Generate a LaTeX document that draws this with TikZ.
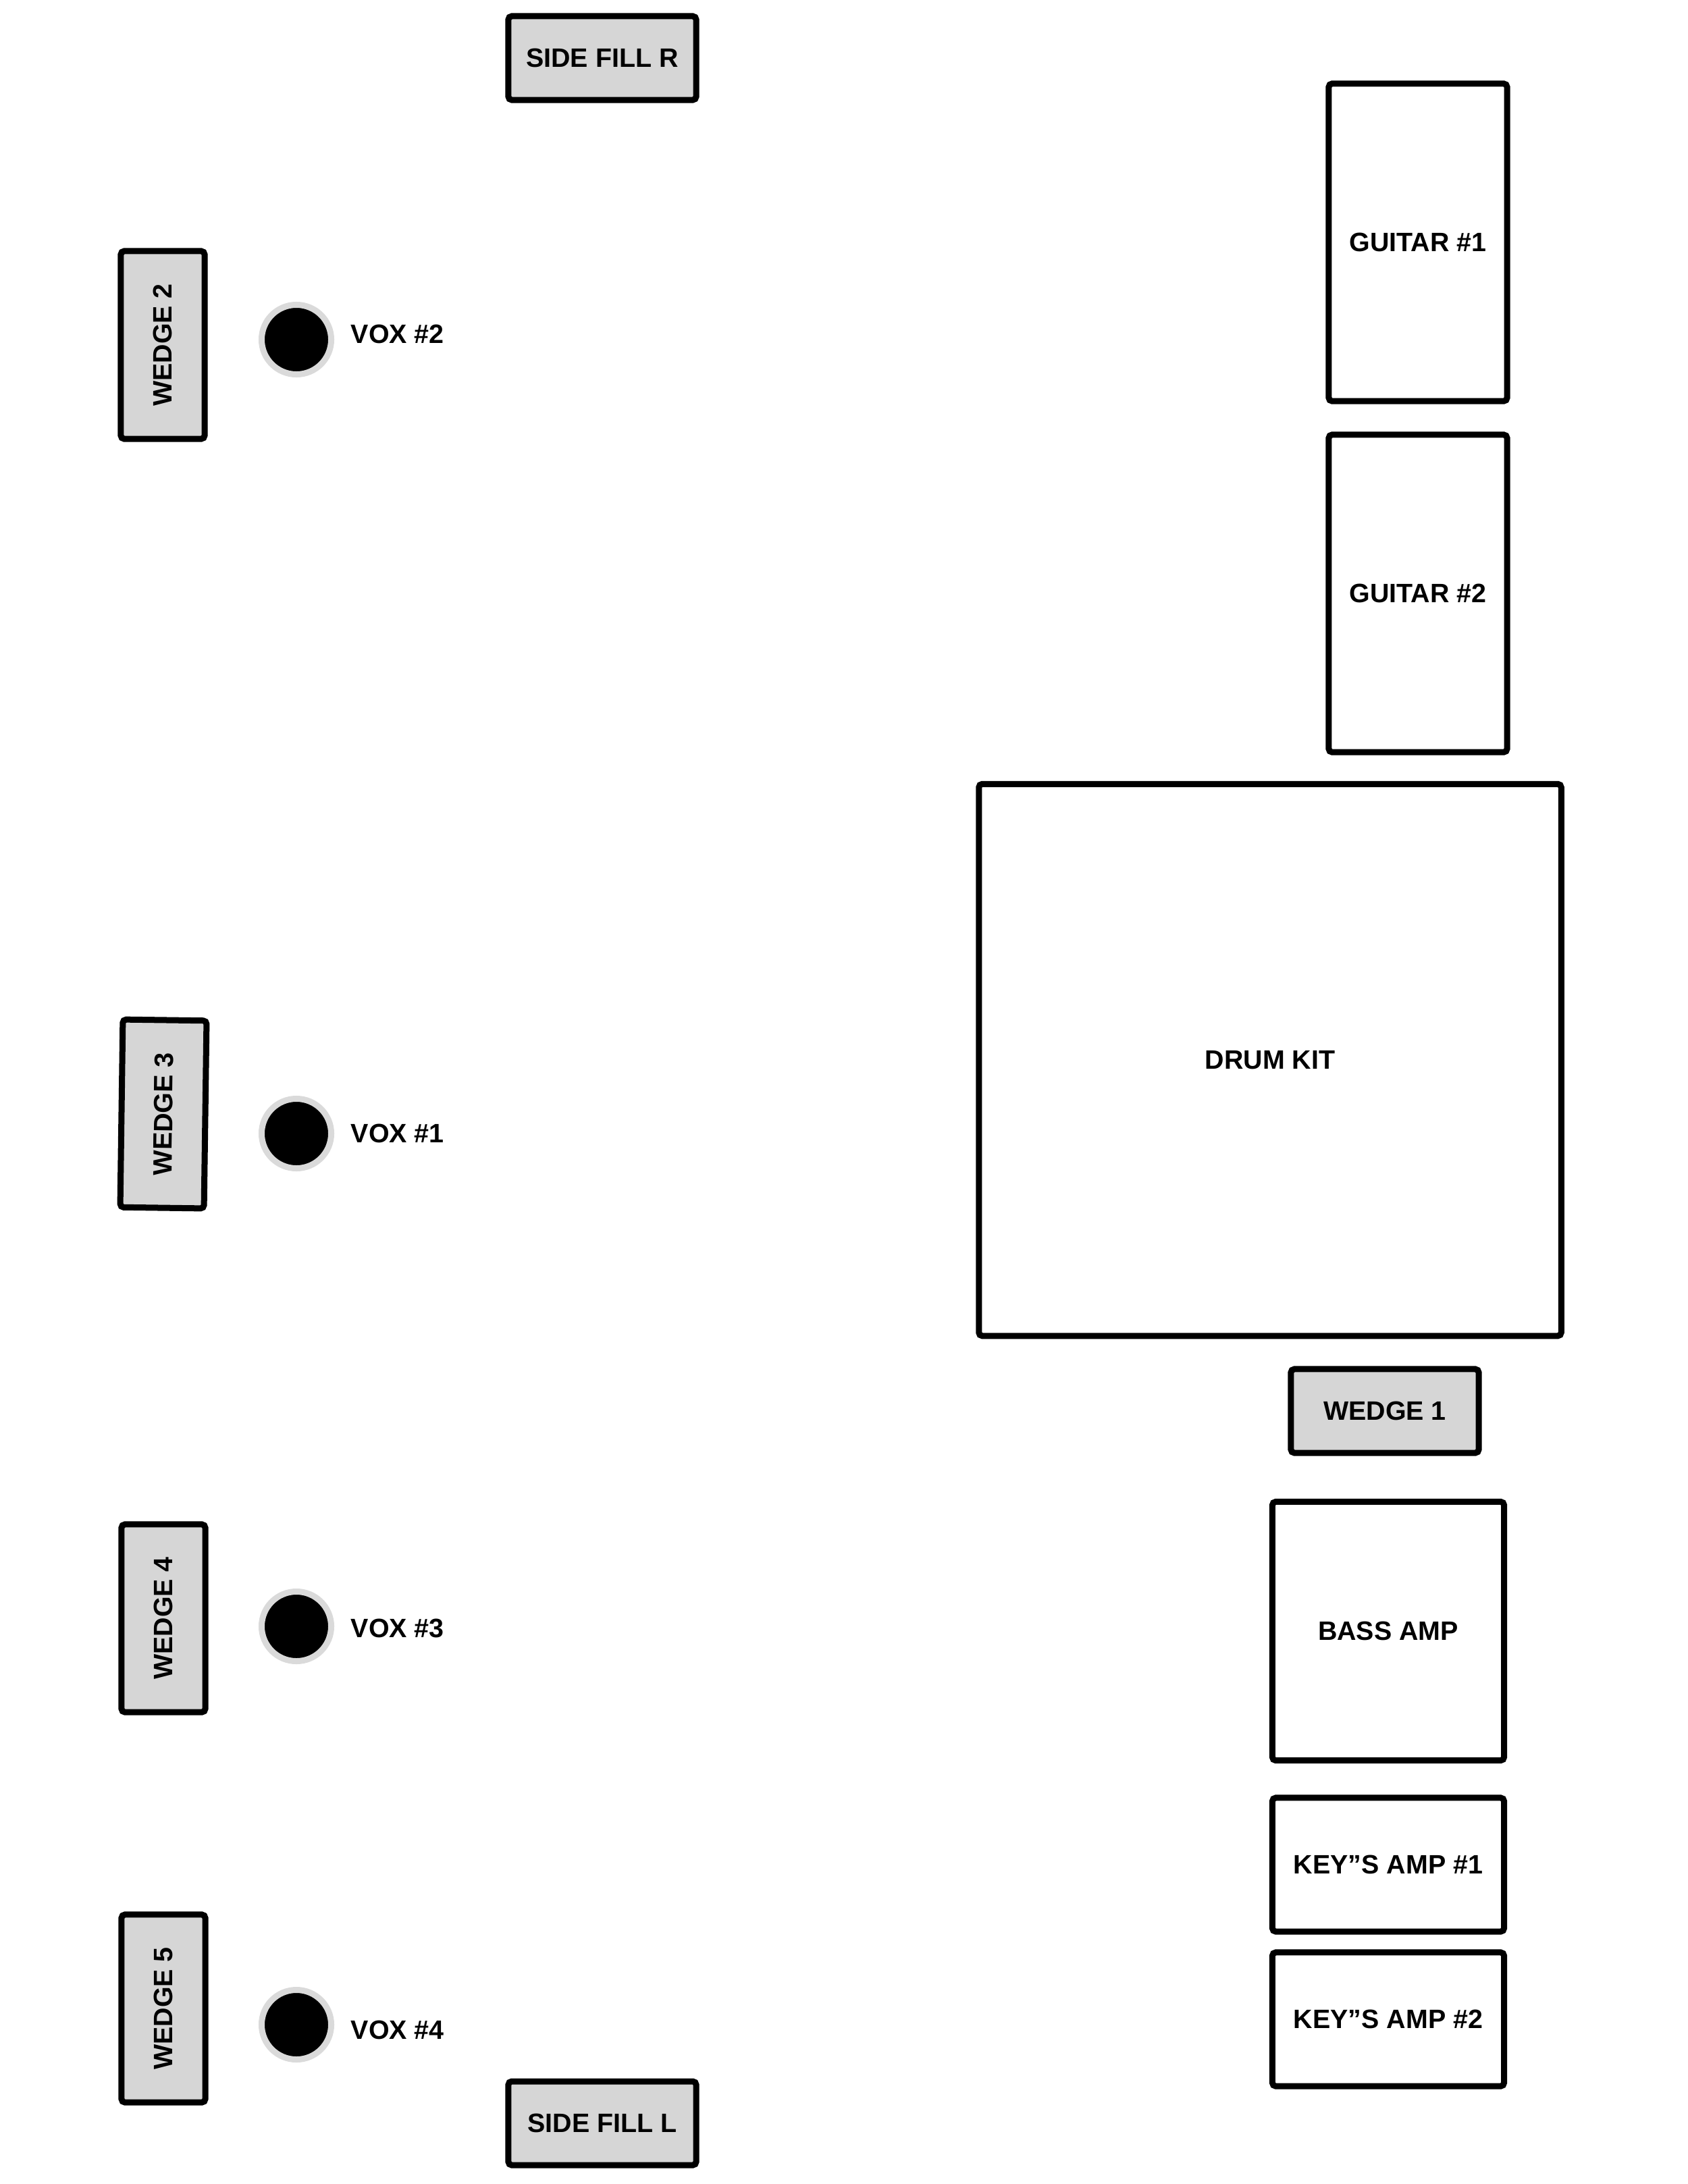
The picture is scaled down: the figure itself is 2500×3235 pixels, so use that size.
\documentclass[tikz,border=0pt]{standalone}
\usepackage{fontspec}
\setmainfont{Liberation Sans}
\usetikzlibrary{positioning}
\definecolor{fillgray}{RGB}{214,214,214}
\definecolor{ringgray}{RGB}{218,218,218}
\begin{document}
\begin{tikzpicture}[
    x=0.01cm, y=-0.01cm,
    tag/.style={font=\fontsize{11.2}{13}\selectfont\bfseries, inner sep=2pt},
    gear/.style={draw, line width=0.09cm, rounded corners=0.05cm, tag},
    wedge/.style={gear, fill=fillgray, minimum width=2.78cm, minimum height=1.24cm},
    amp/.style={gear, fill=white},
    mic/.style={circle, fill=black, draw=ringgray, line width=0.09cm, minimum size=1.03cm, inner sep=0pt}
]
    \useasboundingbox (0,0) rectangle (2500,3235);

    \node[wedge] (sfr) at (892,86) {SIDE FILL R};
    \node[wedge] (sfl) at (892,3145) {SIDE FILL L};

    \node[wedge, rotate=90] (w2) at (241,511) {WEDGE 2};
    \node[wedge, rotate=89.2] (w3) at (242,1650) {WEDGE 3};
    \node[wedge, rotate=90] (w4) at (242,2397) {WEDGE 4};
    \node[wedge, rotate=90] (w5) at (242,2975) {WEDGE 5};
    \node[wedge] (w1) at (2051,2090) {WEDGE 1};

    \node[mic] (vox2) at (439,503) {};
    \node[mic] (vox1) at (439,1679) {};
    \node[mic] (vox3) at (439,2409) {};
    \node[mic] (vox4) at (439,2999) {};
    \node[tag, right=0.17cm of vox2, yshift=0.08cm] (vox2txt) {VOX \#2};
    \node[tag, right=0.17cm of vox1] (vox1txt) {VOX \#1};
    \node[tag, right=0.17cm of vox3, yshift=-0.03cm] (vox3txt) {VOX \#3};
    \node[tag, right=0.17cm of vox4, yshift=-0.08cm] (vox4txt) {VOX \#4};

    \node[amp, minimum width=2.64cm, minimum height=4.70cm] (gtr1) at (2100,359) {GUITAR \#1};
    \node[amp, minimum width=2.64cm, minimum height=4.70cm] (gtr2) at (2100,879) {GUITAR \#2};
    \node[amp, minimum width=8.62cm, minimum height=8.17cm] (drums) at (1881,1570) {DRUM KIT};
    \node[amp, minimum width=3.43cm, minimum height=3.83cm] (bass) at (2056,2416) {BASS AMP};
    \node[amp, minimum width=3.43cm, minimum height=1.98cm] (keys1) at (2056,2762) {KEY”S AMP \#1};
    \node[amp, minimum width=3.43cm, minimum height=1.98cm] (keys2) at (2056,2991) {KEY”S AMP \#2};
\end{tikzpicture}
\end{document}
